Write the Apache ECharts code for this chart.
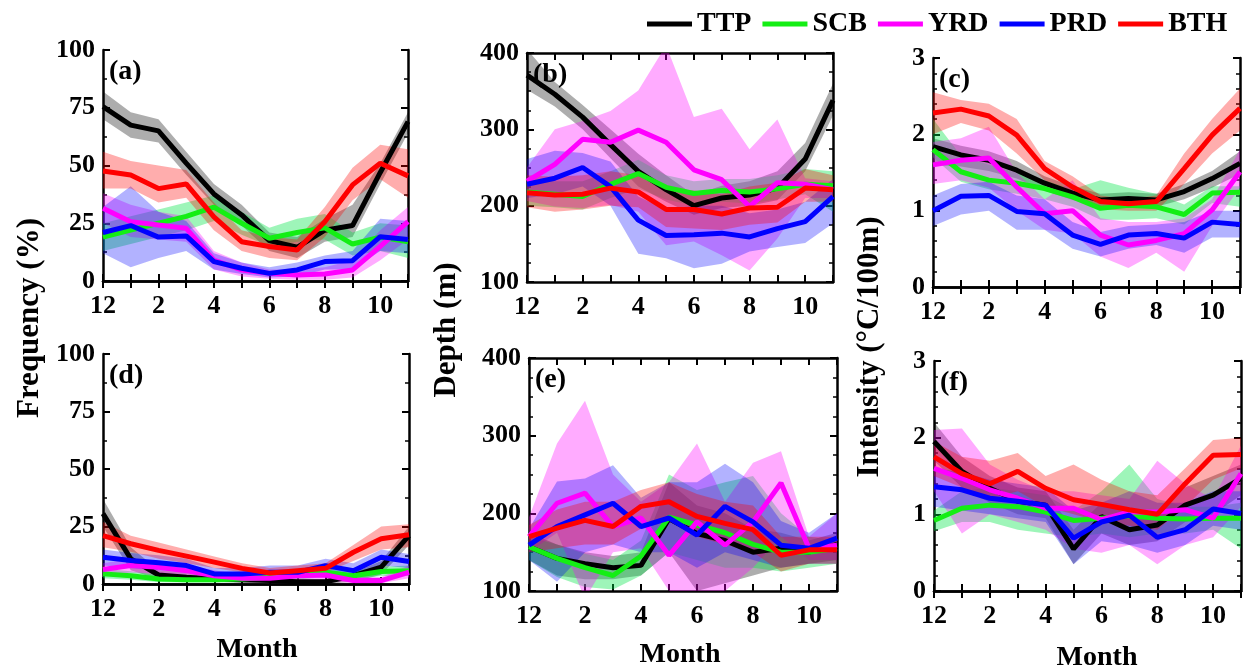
<!DOCTYPE html>
<html><head><meta charset="utf-8">
<script src="https://cdn.jsdelivr.net/npm/echarts@6/dist/echarts.min.js"></script>
<style>html,body{margin:0;padding:0;background:#fff}#c{width:1250px;height:670px}</style>
</head><body><div id="c"></div>
<script>
const months = ['12','1','2','3','4','5','6','7','8','9','10','11'];
const regions = ['TTP','SCB','YRD','PRD','BTH'];

// (a) Frequency, top row
const aTTP = [75.5,67.5,65,51,37.7,28.6,17.5,14.6,22,24,47,69];
const aTTPlo = [70,62,60,46,33,24,13,10,17,19,42,64];
const aTTPhi = [82,73,70,56,42,33,21,19,27,33,51,73];
const aSCB = [19,22,25,28,32,25,18.5,21,23,16,19,17];
const aSCBlo = [13,16,19,22,26,20,15,17,18,11,13,10];
const aSCBhi = [25,28,31,34,37,30,23,27,29,21,25,24];
const aYRD = [31.5,25.7,24.2,22.8,9,4.8,3.3,2.6,3,4.8,15,25.7];
const aYRDlo = [25,19,18,17,5,2,1,0.5,0.5,1.5,9,18];
const aYRDhi = [38,33,30,28,13,8,5,5,6,9,22,32];
const aPRD = [21,24,19,19.5,8.4,5.5,3.3,4.8,8.4,8.8,19.2,18];
const aPRDlo = [12,6,10,13,5,3,1.5,2,5,5,13,12];
const aPRDhi = [32,41,30,26,12,8,6,8,11,13,27,26];
const aBTH = [47.6,45.9,40,42,27.8,17,14.9,13.4,25.7,41.6,51,45.5];
const aBTHlo = [40,40,34,36,22,13,10,9,19,35,44,36];
const aBTHhi = [56,52,50,48,34,22,19,18,32,49,59,57];

// (b) Depth, top row
const bTTP = [371,346,316,280,245,221,200,210,214,223,261,338];
const bTTPlo = [352,330,300,262,225,205,188,197,200,207,245,318];
const bTTPhi = [405,362,332,300,268,240,214,226,232,245,282,360];
const bSCB = [218,215,212,228,242,224,216,220,218,222,228,226];
const bSCBlo = [200,198,195,210,222,208,200,205,203,208,215,192];
const bSCBhi = [235,232,232,245,260,240,232,235,235,240,248,245];
const bYRD = [232,254,287,283,299,283,247,234,199,230,228,221];
const bYRDlo = [206,199,197,201,192,148,153,135,115,157,210,210];
const bYRDhi = [250,300,311,324,351,410,316,327,274,313,236,232];
const bPRD = [228,236,250,225,181,161,162,164,159,170,179,212];
const bPRDlo = [210,215,225,200,137,131,118,124,140,146,151,177];
const bPRDhi = [261,272,269,258,212,195,200,200,190,195,205,235];
const bBTH = [217,214,215,223,218,195,195,189,197,198,223,221];
const bBTHlo = [198,192,195,200,198,172,170,168,175,178,205,205];
const bBTHhi = [240,238,240,245,240,222,220,215,225,230,248,240];

// (c) Intensity, top row
const cTTP = [1.84,1.73,1.66,1.53,1.36,1.23,1.14,1.16,1.14,1.25,1.42,1.62];
const cTTPlo = [1.6,1.58,1.52,1.42,1.26,1.14,1.05,1.07,1.05,1.15,1.3,1.48];
const cTTPhi = [1.95,1.85,1.78,1.65,1.45,1.32,1.22,1.24,1.22,1.35,1.52,1.78];
const cSCB = [1.8,1.51,1.4,1.36,1.29,1.18,1.03,1.07,1.05,0.95,1.23,1.24];
const cSCBlo = [1.7,1.38,1.28,1.22,1.15,1.05,0.88,0.88,0.9,0.82,1.1,1.05];
const cSCBhi = [2.2,1.72,1.6,1.5,1.4,1.28,1.4,1.3,1.22,1.08,1.32,1.32];
const cYRD = [1.6,1.66,1.69,1.31,0.96,1.0,0.68,0.55,0.61,0.7,1.01,1.51];
const cYRDlo = [1.35,1.4,1.3,1.0,0.75,0.7,0.4,0.25,0.45,0.2,0.8,1.3];
const cYRDhi = [1.9,1.95,2.1,1.5,1.15,1.4,0.9,0.85,0.85,0.9,1.15,1.8];
const cPRD = [1.0,1.19,1.2,0.99,0.96,0.68,0.56,0.68,0.7,0.64,0.85,0.82];
const cPRDlo = [0.8,0.95,1.0,0.75,0.75,0.5,0.4,0.5,0.55,0.45,0.65,0.65];
const cPRDhi = [1.2,1.35,1.38,1.2,1.15,0.85,0.72,0.8,0.82,0.85,1.0,1.0];
const cBTH = [2.28,2.33,2.24,1.99,1.55,1.31,1.12,1.09,1.12,1.55,1.99,2.34];
const cBTHlo = [2.0,2.15,2.05,1.75,1.4,1.18,1.02,1.0,1.0,1.35,1.75,2.05];
const cBTHhi = [2.55,2.45,2.4,2.2,1.65,1.45,1.2,1.15,1.2,1.75,2.2,2.6];

// (d) Frequency, bottom row
const dTTP = [30.6,10.9,3.9,2.9,2.2,1.9,1.5,1,1,3.6,7.3,21];
const dTTPlo = [25,6,2,1,1,0.5,0.5,0,0,1,4,17];
const dTTPhi = [37,16,6,5,4,3,3,2,2,5,10,25];
const dSCB = [4.4,3.6,2.2,1.9,1.9,2.2,2.9,3.9,5.1,3.6,5.4,5.8];
const dSCBlo = [2.5,1.8,0.8,0.6,0.6,0.8,1.2,2,3,2,3.5,3.5];
const dSCBhi = [6.5,5.5,3.8,3.3,3.3,3.8,4.8,6,7.5,5.5,7.5,8];
const dYRD = [6.3,8,7.3,5.8,3.6,2.5,2.5,3.6,3.9,1.5,1.5,5.1];
const dYRDlo = [3.5,5,4.5,3,1.5,1,1,1.5,1.5,0.3,0.3,2.5];
const dYRDhi = [9,11,10,8.5,6,4,4,6,6.5,3,3,8];
const dPRD = [11.6,10.2,9.2,8,4.4,4.4,5.1,5.1,8,5.8,11.6,9.8];
const dPRDlo = [8,7,6,5,2.5,2.5,3,3,5,3.5,8,7];
const dPRDhi = [15,13.5,12.5,11,7,7,8,8,11,9,15,13];
const dBTH = [21,17.5,14.6,12.1,9.5,6.8,4.8,5.8,6.8,13.8,19.7,21.4];
const dBTHlo = [16,14,11,9,7,5,3,4,5,10,15,16];
const dBTHhi = [27,21,18,15,12,9,7,8,9,17,25,26];

// (e) Depth, bottom row
const eTTP = [157,142,135,130,133,193,174,165,150,155,150,160];
const eTTPlo = [140,120,115,115,120,150,100,110,120,130,135,140];
const eTTPhi = [175,160,150,145,150,240,210,200,180,175,165,175];
const eSCB = [157,142,130,120,145,195,185,175,160,150,150,155];
const eSCBlo = [140,118,105,102,120,150,140,130,130,125,130,135];
const eSCBhi = [170,160,148,140,165,250,230,240,248,200,170,165];
const eYRD = [170,213,226,183,194,146,189,159,189,239,155,159];
const eYRDlo = [150,175,90,150,155,100,100,100,130,170,140,140];
const eYRDhi = [195,290,345,250,215,240,290,215,265,280,170,200];
const ePRD = [159,183,198,213,183,194,172,209,189,159,155,168];
const ePRDlo = [140,112,150,160,150,150,130,150,140,130,135,135];
const ePRDhi = [180,241,245,262,220,240,240,264,240,190,175,200];
const eBTH = [170,181,191,183,209,215,196,187,179,146,153,153];
const eBTHlo = [150,155,160,160,180,190,170,160,150,125,135,135];
const eBTHhi = [185,205,215,215,230,240,225,215,210,170,170,170];

// (f) Intensity, bottom row
const fTTP = [1.95,1.56,1.34,1.17,1.12,0.55,0.97,0.8,0.86,1.12,1.25,1.47];
const fTTPlo = [1.7,1.35,1.15,1.0,0.95,0.35,0.75,0.6,0.65,0.9,1.0,1.25];
const fTTPhi = [2.2,1.75,1.5,1.35,1.3,0.8,1.15,1.0,1.05,1.35,1.5,1.65];
const fSCB = [0.92,1.08,1.12,1.1,1.03,0.92,0.95,0.98,0.95,0.94,0.95,0.95];
const fSCBlo = [0.78,0.9,0.9,0.8,0.75,0.7,0.75,0.7,0.75,0.75,0.8,0.55];
const fSCBhi = [1.05,1.3,1.35,1.3,1.25,1.05,1.3,1.65,1.2,1.1,1.1,1.15];
const fYRD = [1.6,1.47,1.32,1.21,1.08,1.08,0.93,1.03,1.03,1.06,0.95,1.53];
const fYRDlo = [1.3,0.75,1.0,0.9,0.8,0.55,0.5,0.6,0.35,0.6,0.7,1.1];
const fYRDhi = [2.1,2.12,1.65,1.45,1.3,1.3,1.25,1.2,1.7,1.4,1.2,1.9];
const fPRD = [1.36,1.32,1.21,1.17,1.12,0.69,0.9,0.99,0.7,0.8,1.07,1.01];
const fPRDlo = [1.1,1.05,1.0,0.95,0.9,0.35,0.65,0.6,0.5,0.6,0.85,0.8];
const fPRDhi = [1.6,1.55,1.45,1.4,1.35,1.05,1.15,1.3,1.15,1.15,1.3,1.3];
const fBTH = [1.75,1.53,1.4,1.56,1.34,1.19,1.13,1.06,1.0,1.4,1.77,1.78];
const fBTHlo = [1.5,1.35,1.2,1.3,1.1,1.0,0.9,0.85,0.8,1.1,1.45,1.6];
const fBTHhi = [1.95,1.75,1.7,1.8,1.5,1.65,1.45,1.3,1.25,1.6,1.97,2.0];

const panelLabels = ['(a)','(b)','(c)','(d)','(e)','(f)'];
const yTitles = ['Frequency (%)','Depth (m)','Intensity (°C/100m)'];
const xTitle = 'Month';

const FONT = '"Liberation Serif", "Times New Roman", serif';
const lineColors = {TTP:'#000000',SCB:'#14ee14',YRD:'#ff00ff',PRD:'#0000ff',BTH:'#ff0000'};
const bandColors = {TTP:'rgba(0,0,0,0.32)',SCB:'rgba(0,230,70,0.38)',YRD:'rgba(255,0,255,0.33)',PRD:'rgba(0,0,255,0.3)',BTH:'rgba(255,0,0,0.32)'};

const panelData = {
  a:{TTP:[aTTP,aTTPlo,aTTPhi],SCB:[aSCB,aSCBlo,aSCBhi],YRD:[aYRD,aYRDlo,aYRDhi],PRD:[aPRD,aPRDlo,aPRDhi],BTH:[aBTH,aBTHlo,aBTHhi]},
  b:{TTP:[bTTP,bTTPlo,bTTPhi],SCB:[bSCB,bSCBlo,bSCBhi],YRD:[bYRD,bYRDlo,bYRDhi],PRD:[bPRD,bPRDlo,bPRDhi],BTH:[bBTH,bBTHlo,bBTHhi]},
  c:{TTP:[cTTP,cTTPlo,cTTPhi],SCB:[cSCB,cSCBlo,cSCBhi],YRD:[cYRD,cYRDlo,cYRDhi],PRD:[cPRD,cPRDlo,cPRDhi],BTH:[cBTH,cBTHlo,cBTHhi]},
  d:{TTP:[dTTP,dTTPlo,dTTPhi],SCB:[dSCB,dSCBlo,dSCBhi],YRD:[dYRD,dYRDlo,dYRDhi],PRD:[dPRD,dPRDlo,dPRDhi],BTH:[dBTH,dBTHlo,dBTHhi]},
  e:{TTP:[eTTP,eTTPlo,eTTPhi],SCB:[eSCB,eSCBlo,eSCBhi],YRD:[eYRD,eYRDlo,eYRDhi],PRD:[ePRD,ePRDlo,ePRDhi],BTH:[eBTH,eBTHlo,eBTHhi]},
  f:{TTP:[fTTP,fTTPlo,fTTPhi],SCB:[fSCB,fSCBlo,fSCBhi],YRD:[fYRD,fYRDlo,fYRDhi],PRD:[fPRD,fPRDlo,fPRDhi],BTH:[fBTH,fBTHlo,fBTHhi]}
};

const layout = [
  {key:'a', grid:{left:103,top:50,width:305,height:231}, y:{min:0,max:100,interval:25,minor:2}},
  {key:'b', grid:{left:527,top:53,width:306,height:229}, y:{min:100,max:400,interval:100,minor:4}},
  {key:'c', grid:{left:933,top:58,width:307,height:229}, y:{min:0,max:3,interval:1,minor:5}},
  {key:'d', grid:{left:103,top:354,width:306,height:230}, y:{min:0,max:100,interval:25,minor:2}},
  {key:'e', grid:{left:529,top:358,width:308,height:233}, y:{min:100,max:400,interval:100,minor:4}},
  {key:'f', grid:{left:934,top:361,width:307,height:230}, y:{min:0,max:3,interval:1,minor:5}}
];

const grids=[], xAxes=[], yAxes=[], series=[], graphics=[];
const axLine = {show:true, lineStyle:{color:'#000', width:2.5}};
const tick = {show:true, inside:true, length:7, interval:0, lineStyle:{color:'#000', width:2}};
const lbl = {fontFamily:FONT, fontWeight:'bold', fontSize:26, color:'#000'};

layout.forEach((p,k)=>{
  grids.push(Object.assign({containLabel:false}, p.grid));
  xAxes.push({gridIndex:k, type:'category', data:months, boundaryGap:false, position:'bottom',
    axisLine:axLine, axisTick:tick, axisLabel:Object.assign({interval:1, margin:12}, lbl), splitLine:{show:false}});
  xAxes.push({gridIndex:k, type:'category', data:months, boundaryGap:false, position:'top',
    axisLine:axLine, axisTick:tick, axisLabel:{show:false}, splitLine:{show:false}});
  const yb = {gridIndex:k, type:'value', min:p.y.min, max:p.y.max, interval:p.y.interval,
    axisLine:axLine, axisTick:{show:true, inside:true, length:7, lineStyle:{color:'#000', width:2}},
    minorTick:{show:true, splitNumber:p.y.minor, length:4, lineStyle:{color:'#000', width:1.5}},
    splitLine:{show:false}, minorSplitLine:{show:false}};
  yAxes.push(Object.assign({}, yb, {position:'left', axisLabel:Object.assign({margin:8}, lbl)}));
  yAxes.push(Object.assign({}, yb, {position:'right', axisLabel:{show:false}}));
  const D = panelData[p.key];
  regions.forEach(r=>{
    const [mean, lo, hi] = D[r];
    const st = p.key + r;
    series.push({type:'line', name:r+' low', xAxisIndex:2*k, yAxisIndex:2*k, data:lo, stack:st,
      symbol:'none', lineStyle:{width:0, opacity:0}, silent:true, emphasis:{disabled:true}});
    series.push({type:'line', name:r+' band', xAxisIndex:2*k, yAxisIndex:2*k,
      data:hi.map((v,i)=>+(v-lo[i]).toFixed(4)), stack:st,
      symbol:'none', lineStyle:{width:0, opacity:0}, areaStyle:{color:bandColors[r], opacity:1},
      silent:true, emphasis:{disabled:true}});
    series.push({type:'line', name:r, xAxisIndex:2*k, yAxisIndex:2*k, data:mean,
      symbol:'none', color:lineColors[r], lineStyle:{width:5, color:lineColors[r]},
      itemStyle:{color:lineColors[r]}, silent:true, emphasis:{disabled:true}});
  });
  graphics.push({type:'text', x:p.grid.left+6, y:p.grid.top+22, silent:true,
    style:{text:panelLabels[k], fill:'#000', font:'bold 28px "Liberation Serif"', textAlign:'left', textVerticalAlign:'middle'}});
});

function rotText(x,y,text){
  return {type:'text', x, y, rotation:Math.PI/2, silent:true,
    style:{text, fill:'#000', font:'bold 31px "Liberation Serif"', textAlign:'center', textVerticalAlign:'middle'}};
}
function hText(x,y,text){
  return {type:'text', x, y, silent:true,
    style:{text, fill:'#000', font:'bold 28px "Liberation Serif"', textAlign:'center', textVerticalAlign:'middle'}};
}
graphics.push(rotText(30,318,yTitles[0]));
graphics.push(rotText(447,330,yTitles[1]));
graphics.push(rotText(870,347,yTitles[2]));
graphics.push(hText(257,650,xTitle));
graphics.push(hText(680,655,xTitle));
graphics.push(hText(1097,658,xTitle));

const option = {
  animation:false,
  backgroundColor:'#fff',
  grid:grids, xAxis:xAxes, yAxis:yAxes, series:series,
  legend:{data:regions, left:642, top:5, icon:'rect', itemWidth:45, itemHeight:5, itemGap:11,
    textStyle:{fontFamily:FONT, fontWeight:'bold', fontSize:28, color:'#000'}, selectedMode:false},
  graphic:graphics
};
const chart = echarts.init(document.getElementById('c'), null, {renderer:'canvas'});
chart.setOption(option);
</script></body></html>
